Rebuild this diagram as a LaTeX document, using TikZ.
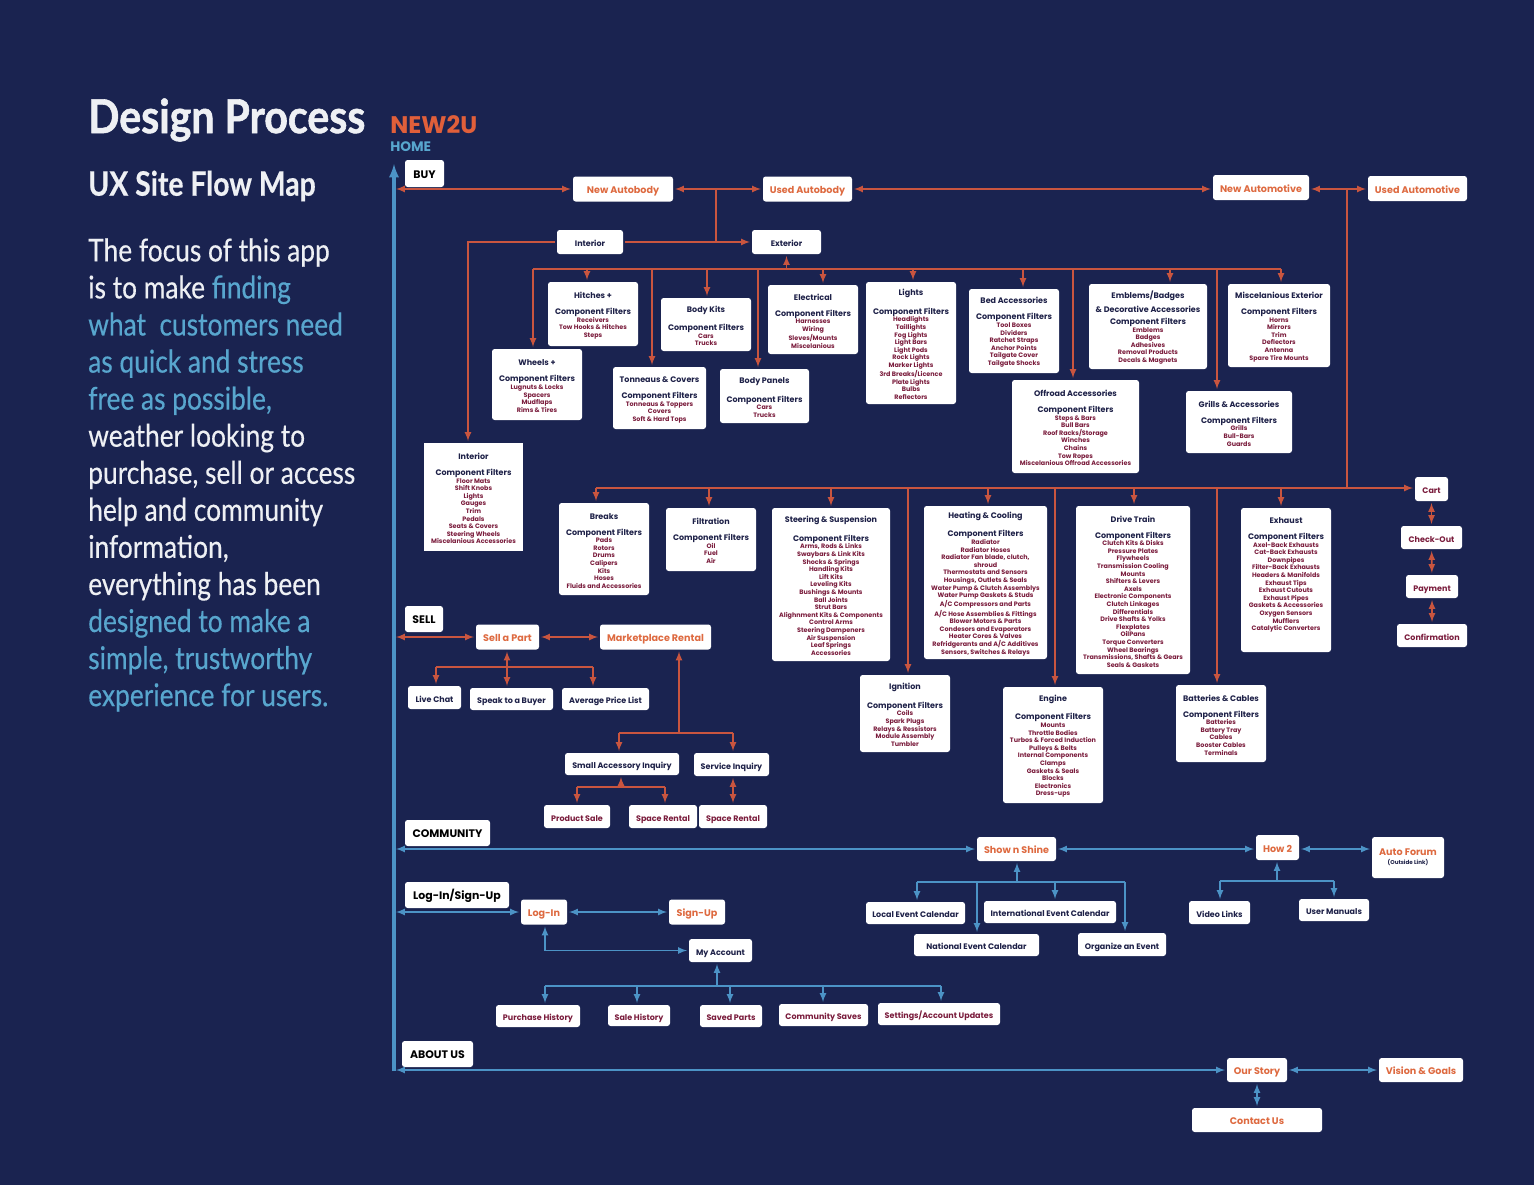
\documentclass[tikz,border=0pt]{standalone}
\usepackage{fontspec}
\setmainfont{Poppins}
\newfontfamily\leadfont[FakeStretch=0.84,FakeBold=0.4]{Lato}
\newfontfamily\titlefont[FakeStretch=0.88,FakeBold=1.2]{Lato}
\usepackage{tikz}
\usetikzlibrary{arrows}

\definecolor{bgc}{HTML}{1A2350}
\definecolor{redc}{HTML}{C9553F}
\definecolor{bluec}{HTML}{4C93C6}
\definecolor{orangec}{HTML}{DE6A40}
\definecolor{inkc}{HTML}{1E2148}
\definecolor{winec}{HTML}{7A1C3C}
\definecolor{leadc}{HTML}{EEF0F4}
\definecolor{skyc}{HTML}{58A6CE}

\tikzset{
  tagbase/.style={rectangle,fill=white,rounded corners=2pt,inner sep=0pt,outer sep=1.5pt,align=center},
  navtag/.style={tagbase,text=black,text height=0.7em,text depth=0pt,font=\fontsize{8.2}{9}\selectfont\bfseries},
  orangetag/.style={tagbase,text=orangec,text height=0.7em,text depth=0pt,font=\fontsize{7.2}{8}\selectfont\bfseries},
  inktag/.style={tagbase,text=inkc,text height=0.7em,text depth=0pt,font=\fontsize{6}{7}\selectfont\bfseries},
  winetag/.style={tagbase,text=winec,text height=0.7em,text depth=0pt,font=\fontsize{6}{7}\selectfont\bfseries},
  catbox/.style={tagbase,text=winec,font=\fontsize{4.8}{5.7}\selectfont\bfseries},
  redline/.style={draw=redc,line width=1.3pt,>=latex},
  blueline/.style={draw=bluec,line width=1.3pt,>=latex},
  leadtext/.style={text=leadc,align=left,inner sep=0pt,anchor=west}
}

\newcommand{\tagbox}[7]{\node (#1) [#2,minimum width={(#5-#3)*0.75pt},minimum height={(#6-#4)*0.75pt}] at ({(#3+#5)/2},{(#4+#6)/2}) {#7};}
\newcommand{\headline}[1]{\textcolor{inkc}{\fontsize{6}{5.7}\selectfont #1}}
\newcommand{\cathead}[1]{\headline{\rule{0pt}{7pt}#1}}
\newcommand{\filters}{\headline{Component Filters}}

\begin{document}
\begin{tikzpicture}[x=0.75pt,y=0.75pt,yscale=-1,xscale=1]
\fill[bgc] (0,0) rectangle (1534,1185);
\useasboundingbox (0,0) rectangle (1534,1185);

% Text Node
\node (title) [leadtext,font=\titlefont\fontsize{35}{40}\selectfont\bfseries] at (88,120) {Design Process};
\node (subtitle) [leadtext,font=\leadfont\fontsize{25.3}{30}\selectfont\bfseries] at (88,186) {UX Site Flow Map};
\node (lead) [leadtext,anchor=north west,font=\leadfont\fontsize{23.5}{27.8}\selectfont] at (88,238) {The focus of this app\\
is to make \textcolor{skyc}{finding}\\
\textcolor{skyc}{what\ \ customers need}\\
\textcolor{skyc}{as quick and stress}\\
\textcolor{skyc}{free as possible,}\\
weather looking to\\
purchase, sell or access\\
help and community\\
information,\\
everything has been\\
\textcolor{skyc}{designed to make a}\\
\textcolor{skyc}{simple, trustworthy}\\
\textcolor{skyc}{experience for users.}};
\node (brand) [anchor=west,inner sep=0pt,text=orangec!90!red,font=\fontsize{18}{20}\selectfont\bfseries] at (390,125) {NEW2U};
\node (home) [anchor=west,inner sep=0pt,text=skyc,font=\fontsize{10.3}{11}\selectfont\bfseries] at (390,147) {HOME};

%Shape: Section tags
\tagbox{buy}{navtag}{405}{160}{444}{187}{BUY}
\tagbox{sell}{navtag}{405}{606}{443}{632}{SELL}
\tagbox{community}{navtag}{405}{820}{490}{846}{COMMUNITY}
\tagbox{login}{navtag}{405}{882}{509}{908}{Log-In/Sign-Up}
\tagbox{about}{navtag}{402}{1041}{473}{1067}{ABOUT US}

%Shape: Buy row
\tagbox{newbody}{orangetag}{573}{176.5}{673}{201.5}{New Autobody}
\tagbox{usedbody}{orangetag}{763}{176.5}{852}{201.5}{Used Autobody}
\tagbox{newauto}{orangetag}{1213}{175}{1309}{200}{New Automotive}
\tagbox{usedauto}{orangetag}{1368}{176}{1467}{201}{Used Automotive}
\tagbox{intbar}{inktag}{557}{230}{623}{254}{Interior}
\tagbox{extbar}{inktag}{752}{230}{821}{254}{Exterior}

%Shape: Exterior filters
\tagbox{wheels}{catbox}{492}{349}{582}{420}{\cathead{Wheels +}\\[6.3pt]\filters\\Lugnuts \& Locks\\Spacers\\Mudflaps\\Rims \& Tires}
\tagbox{hitches}{catbox}{548}{282}{638}{346}{\cathead{Hitches +}\\[6.3pt]\filters\\Receivers\\Tow Hooks \& Hitches\\Steps}
\tagbox{tonneaus}{catbox}{613}{367}{706}{429}{\cathead{Tonneaus \& Covers}\\[6.3pt]\filters\\Tonneaus \& Toppers\\Covers\\Soft \& Hard Tops}
\tagbox{bodykits}{catbox}{661}{298}{751}{351}{\cathead{Body Kits}\\[6.3pt]\filters\\Cars\\Trucks}
\tagbox{panels}{catbox}{720}{369}{809}{423}{\cathead{Body Panels}\\[6.3pt]\filters\\Cars\\Trucks}
\tagbox{electrical}{catbox}{768}{285}{858}{354}{\cathead{Electrical}\\[6.3pt]\filters\\Harnesses\\Wiring\\Sleves/Mounts\\Miscelanious}
\tagbox{lights}{catbox}{866}{282}{956}{404}{\cathead{Lights}\\[6.3pt]\filters\\Headlights\\Taillights\\Fog Lights\\Light Bars\\Light Pods\\Rock Lights\\Marker Lights\\3rd Breaks/Licence\\Plate Lights\\Bulbs\\Reflectors}
\tagbox{bed}{catbox}{969}{289}{1059}{373}{\cathead{Bed Accessories}\\[6.3pt]\filters\\Tool Boxes\\Dividers\\Ratchet Straps\\Anchor Points\\Tailgate Cover\\Tailgate Shocks}
\tagbox{offroad}{catbox}{1012}{380}{1139}{473}{\cathead{Offroad Accessories}\\[6.3pt]\filters\\Steps \& Bars\\Bull Bars\\Roof Racks/Storage\\Winches\\Chains\\Tow Ropes\\Miscelanious Offroad Accessories}
\tagbox{emblems}{catbox}{1089}{284}{1207}{369}{\cathead{Emblems/Badges}\\[3.3pt]\headline{\& Decorative Accessories}\\[3.3pt]\filters\\Emblems\\Badges\\Adhesives\\Removal Products\\Decals \& Magnets}
\tagbox{grills}{catbox}{1186}{391}{1292}{453}{\cathead{Grills \& Accessories}\\[6.3pt]\filters\\Grills\\Bull-Bars\\Guards}
\tagbox{miscext}{catbox}{1228}{284}{1330}{367}{\cathead{Miscelanious Exterior}\\[6.3pt]\filters\\Horns\\Mirrors\\Trim\\Deflectors\\Antenna\\Spare Tire Mounts}

%Shape: Interior filters
\tagbox{intbox}{catbox,rounded corners=0pt}{424}{443}{523}{551}{\cathead{Interior}\\[6.3pt]\filters\\Floor Mats\\Shift Knobs\\Lights\\Gauges\\Trim\\Pedals\\Seats \& Covers\\Steering Wheels\\Miscelanious Accessories}

%Shape: Automotive filters
\tagbox{breaks}{catbox}{559}{503}{649}{595}{\cathead{Breaks}\\[6.3pt]\filters\\Pads\\Rotors\\Drums\\Calipers\\Kits\\Hoses\\Fluids and Accessories}
\tagbox{filtration}{catbox}{666}{508}{756}{571}{\cathead{Filtration}\\[6.3pt]\filters\\Oil\\Fuel\\Air}
\tagbox{steering}{catbox}{772}{508}{890}{661}{\cathead{Steering \& Suspension}\\[6.3pt]\filters\\Arms, Rods \& Links\\Swaybars \& Link Kits\\Shocks \& Springs\\Handling Kits\\Lift Kits\\Leveling Kits\\Bushings \& Mounts\\Ball Joints\\Strut Bars\\Alighnment Kits \& Components\\Control Arms\\Steering Dampeners\\Air Suspension\\Leaf Springs\\Accessories}
\tagbox{ignition}{catbox}{860}{675}{950}{752}{\cathead{Ignition}\\[6.3pt]\filters\\Coils\\Spark Plugs\\Relays \& Ressistors\\Module Assembly\\Tumbler}
\tagbox{heating}{catbox}{924}{506}{1047}{659}{\cathead{Heating \& Cooling}\\[6.3pt]\filters\\Radiator\\Radiator Hoses\\Radiator Fan blade, clutch,\\shroud\\Thermostats and Sensors\\Housings, Outlets \& Seals\\Water Pump \& Clutch Assemblys\\Water Pump Gaskets \& Studs\\A/C Compressors and Parts\\A/C Hose Assemblies \& Fittings\\Blower Motors \& Parts\\Condesors and Evaporators\\Heater Cores \& Valves\\Refridgerants and A/C Additives\\Sensors, Switches \& Relays}
\tagbox{engine}{catbox}{1003}{687}{1103}{803}{\cathead{Engine}\\[6.3pt]\filters\\Mounts\\Throttle Bodies\\Turbos \& Forced Induction\\Pulleys \& Belts\\Internal Components\\Clamps\\Gaskets \& Seals\\Blocks\\Electronics\\Dress-ups}
\tagbox{drive}{catbox}{1076}{506}{1190}{674}{\cathead{Drive Train}\\[6.3pt]\filters\\Clutch Kits \& Disks\\Pressure Plates\\Flywheels\\Transmission Cooling\\Mounts\\Shifters \& Levers\\Axels\\Electronic Components\\Clutch Linkages\\Differentials\\Drive Shafts \& Yolks\\Flexplates\\OilPans\\Torque Converters\\Wheel Bearings\\Transmissions, Shafts \& Gears\\Seals \& Gaskets}
\tagbox{batteries}{catbox}{1176}{685}{1266}{762}{\cathead{Batteries \& Cables}\\[6.3pt]\filters\\Batteries\\Battery Tray\\Cables\\Booster Cables\\Terminals}
\tagbox{exhaust}{catbox}{1241}{508}{1331}{652}{\cathead{Exhaust}\\[6.3pt]\filters\\Axel-Back Exhausts\\Cat-Back Exhausts\\Downpipes\\Filter-Back Exhausts\\Headers \& Manifolds\\Exhaust Tips\\Exhaust Cutouts\\Exhaust Pipes\\Gaskets \& Accessories\\Oxygen Sensors\\Mufflers\\Catalytic Converters\\ \mbox{}\\ \mbox{}}

%Shape: Checkout
\tagbox{cart}{winetag}{1415}{477}{1448}{501}{Cart}
\tagbox{checkout}{winetag}{1401}{526}{1462}{549}{Check-Out}
\tagbox{payment}{winetag}{1406}{575}{1458}{598}{Payment}
\tagbox{confirm}{winetag}{1397}{624}{1467}{647}{Confirmation}

%Shape: Sell
\tagbox{sellpart}{orangetag}{476}{624.5}{539}{649.5}{Sell a Part}
\tagbox{market}{orangetag}{600}{624.5}{711}{649.5}{Marketplace Rental}
\tagbox{chat}{inktag}{408}{686}{461}{709}{Live Chat}
\tagbox{speak}{inktag}{470}{688}{553}{710}{Speak to a Buyer}
\tagbox{price}{inktag}{562}{688}{649}{710}{Average Price List}
\tagbox{accessory}{inktag}{565}{753}{679}{775}{Small Accessory Inquiry}
\tagbox{service}{inktag}{694}{753}{769}{776}{Service Inquiry}
\tagbox{sale}{winetag}{544}{805}{610}{828}{Product Sale}
\tagbox{spacea}{winetag}{629}{805}{697}{828}{Space Rental}
\tagbox{spaceb}{winetag}{699}{805}{767}{828}{Space Rental}

%Shape: Community
\tagbox{shine}{orangetag}{977}{837}{1056}{861}{Show n Shine}
\tagbox{howto}{orangetag}{1256}{835}{1299}{860}{How 2}
\tagbox{forum}{orangetag,text height=,text depth=}{1372}{837}{1444}{878}{Auto Forum\\[-1.5pt]\textcolor{inkc}{\fontsize{4.2}{5}\selectfont (Outside Link)}}
\tagbox{localev}{inktag}{866}{902}{965}{924}{Local Event Calendar}
\tagbox{interev}{inktag}{984}{901}{1116}{923}{International Event Calendar}
\tagbox{nationev}{inktag}{914}{934}{1039}{956}{National Event Calendar}
\tagbox{organize}{inktag}{1078}{933}{1166}{956}{Organize an Event}
\tagbox{video}{inktag}{1189}{901}{1250}{924}{Video Links}
\tagbox{manuals}{inktag}{1299}{899}{1369}{921}{User Manuals}

%Shape: Log-in
\tagbox{logbox}{orangetag}{521}{899.5}{567}{924.5}{Log-In}
\tagbox{signup}{orangetag}{669}{899.5}{725}{924.5}{Sign-Up}
\tagbox{account}{inktag}{689}{939}{752}{962}{My Account}
\tagbox{purchase}{winetag}{496}{1005}{580}{1027}{Purchase History}
\tagbox{salehist}{winetag}{608}{1005}{670}{1026}{Sale History}
\tagbox{saved}{winetag}{700}{1005}{762}{1027}{Saved Parts}
\tagbox{saves}{winetag}{779}{1004}{868}{1026}{Community Saves}
\tagbox{settings}{winetag}{878}{1003}{1000}{1025}{Settings/Account Updates}

%Shape: About
\tagbox{story}{orangetag}{1227}{1058}{1287}{1082}{Our Story}
\tagbox{vision}{orangetag}{1379}{1058}{1463}{1082}{Vision \& Goals}
\tagbox{contact}{orangetag}{1192}{1108}{1322}{1132}{Contact Us}

%Straight Lines
\coordinate (spinetop) at (394,164);
\coordinate (spineend) at (394,1071);
\coordinate (spine) at (396,600);
\draw[draw=bluec,line width=2.4pt,-latex] (spineend) -- (spinetop);

%Straight Lines
\draw[redline,<->] (spine |- newbody.west) -- (newbody.west);
\draw[redline,<->] (newbody.east) -- (usedbody.west);
\draw[redline,<->] (usedbody.east) -- (usedbody.east -| newauto.west);
\draw[redline,<->] (usedbody.east -| newauto.east) -- (usedbody.east -| usedauto.west);
\coordinate (bodyfork) at (716,189);
\coordinate (autofork) at (1347,189);
\coordinate (intdrop) at (468,242);
\draw[redline] (bodyfork) -- (bodyfork |- extbar.west);
\draw[redline,->] (intbar.east) -- (extbar.west);
\draw[redline,->] (intbar.west) -- (intdrop) -- (intdrop |- intbox.north);

%Straight Lines
\coordinate (extbusl) at (533,269);
\coordinate (extbusr) at (1281,269);
\draw[redline] (extbusl) -- (extbusr);
\draw[redline,->] (extbar.south |- extbusl) -- (extbar.south);
\foreach \dropx/\target in {533/wheels,587/hitches,652/tonneaus,707/bodykits,758/panels,823/electrical,913/lights,1023/bed,1073/offroad,1170/emblems,1217/grills,1281/miscext}{
  \coordinate (drop) at (\dropx,269);
  \draw[redline,->] (drop) -- (drop |- \target.north);
}

%Straight Lines
\coordinate (cartbus) at (596,488);
\draw[redline,->] (cartbus) -- (cartbus -| cart.west);
\draw[redline] (autofork) -- (autofork |- cartbus);
\foreach \dropx/\target in {596/breaks,709/filtration,831/steering,908/ignition,988/heating,1055/engine,1134/drive,1217/batteries,1281/exhaust}{
  \coordinate (drop) at (\dropx,488);
  \draw[redline,->] (drop) -- (drop |- \target.north);
}
\draw[redline,<->] (cart) -- (checkout);
\draw[redline,<->] (checkout) -- (payment);
\draw[redline,<->] (payment) -- (confirm);

%Straight Lines
\draw[redline,<->] (spine |- sellpart.west) -- (sellpart.west);
\draw[redline,<->] (sellpart.east) -- (market.west);
\coordinate (sellbusl) at (436,667);
\coordinate (sellbusm) at (507,667);
\coordinate (sellbusr) at (593,667);
\draw[redline] (sellbusl) -- (sellbusr);
\draw[redline,<->] (sellbusm |- sellpart.south) -- (sellbusm |- speak.north);
\draw[redline,->] (sellbusl) -- (sellbusl |- chat.north);
\draw[redline,->] (sellbusr) -- (sellbusr |- price.north);
\coordinate (marketbusl) at (619,733);
\coordinate (marketbusm) at (679,733);
\coordinate (marketbusr) at (733,733);
\draw[redline,->] (marketbusm) -- (marketbusm |- market.south);
\draw[redline,->] (marketbusl) -- (marketbusl |- accessory.north);
\draw[redline,->] (marketbusr) -- (marketbusr |- service.north);
\draw[redline] (marketbusl) -- (marketbusr);
\coordinate (accbusl) at (577,787);
\coordinate (accbusm) at (621,787);
\coordinate (accbusr) at (665,787);
\draw[redline] (accbusl) -- (accbusr);
\draw[redline,->] (accbusm) -- (accbusm |- accessory.south);
\draw[redline,->] (accbusl) -- (accbusl |- sale.north);
\draw[redline,->] (accbusr) -- (accbusr |- spacea.north);
\draw[redline,<->] (marketbusr |- service.south) -- (marketbusr |- spaceb.north);

%Straight Lines
\draw[blueline,<->] (spine |- shine.west) -- (shine.west);
\draw[blueline,<->] (shine.east) -- (shine.east -| howto.west);
\draw[blueline,<->] (shine.east -| howto.east) -- (shine.east -| forum.west);
\coordinate (shinebusl) at (917,882);
\coordinate (shinebusm) at (1017,882);
\coordinate (shinebusr) at (1125,882);
\draw[blueline] (shinebusl) -- (shinebusr);
\draw[blueline,->] (shinebusm) -- (shinebusm |- shine.south);
\draw[blueline,->] (shinebusl) -- (shinebusl |- localev.north);
\draw[blueline,->] (shinebusr) -- (shinebusr |- organize.north);
\foreach \dropx/\target in {977/nationev,1055/interev}{
  \coordinate (drop) at (\dropx,882);
  \draw[blueline,->] (drop) -- (drop |- \target.north);
}
\coordinate (howbusl) at (1220,881);
\coordinate (howbusm) at (1277,881);
\coordinate (howbusr) at (1334,881);
\draw[blueline] (howbusl) -- (howbusr);
\draw[blueline,->] (howbusm) -- (howbusm |- howto.south);
\draw[blueline,->] (howbusl) -- (howbusl |- video.north);
\draw[blueline,->] (howbusr) -- (howbusr |- manuals.north);

%Straight Lines
\draw[blueline,<->] (spine |- logbox.west) -- (logbox.west);
\draw[blueline,<->] (logbox.east) -- (signup.west);
\coordinate (logfork) at (545,950);
\draw[blueline,<->] (logfork |- logbox.south) -- (logfork |- account.west) -- (account.west);
\coordinate (acctbusm) at (717,986);
\coordinate (acctbusl) at (545,986);
\coordinate (acctbusr) at (941,986);
\draw[blueline] (acctbusl) -- (acctbusr);
\draw[blueline,->] (acctbusm) -- (acctbusm |- account.south);
\foreach \dropx/\target in {545/purchase,637/salehist,730/saved,823/saves,941/settings}{
  \coordinate (drop) at (\dropx,986);
  \draw[blueline,->] (drop) -- (drop |- \target.north);
}

%Straight Lines
\draw[blueline,<->] (spine |- story.west) -- (story.west);
\draw[blueline,<->] (story.east) -- (vision.west);
\draw[blueline,<->] (story.south) -- (story.south |- contact.north);

\end{tikzpicture}
\end{document}
